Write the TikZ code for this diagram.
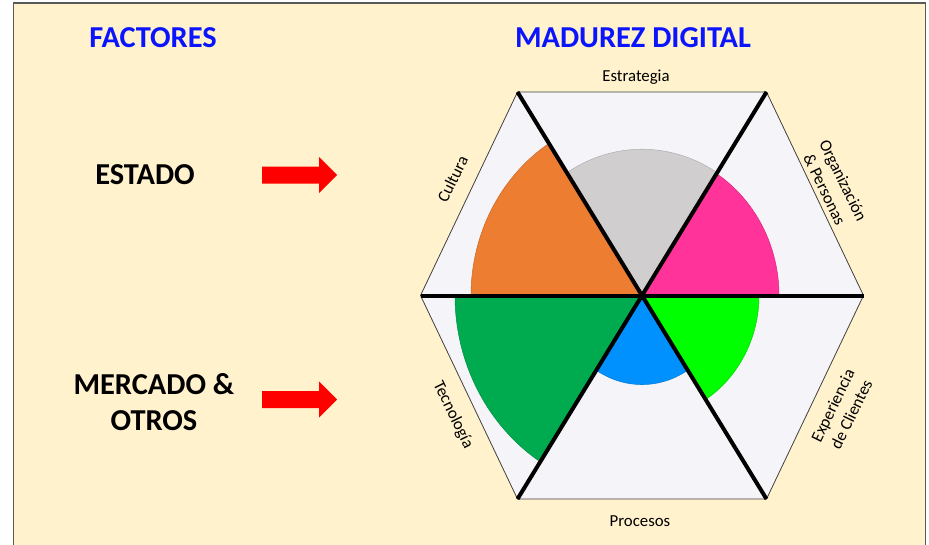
\documentclass[tikz,border=0pt]{standalone}
\usepackage{fontspec}
\setmainfont{Carlito}
\definecolor{panel}{HTML}{FFF2CC}
\definecolor{panelborder}{HTML}{595959}
\definecolor{titleblue}{HTML}{0A14FF}
\definecolor{arrowred}{HTML}{FF0000}
\definecolor{hexfill}{HTML}{F5F4F9}
\definecolor{hexline}{HTML}{404040}
\definecolor{secgray}{HTML}{D0CECE}
\definecolor{secorange}{HTML}{ED7D31}
\definecolor{secdkgreen}{HTML}{00AB50}
\definecolor{secblue}{HTML}{0091FF}
\definecolor{seclime}{HTML}{00FF00}
\definecolor{secpink}{HTML}{FF3399}
\begin{document}
\begin{tikzpicture}[x=0.75pt, y=0.75pt,
    bigword/.style={font=\fontsize{22.8}{27.5}\selectfont\bfseries, align=center, inner sep=0pt},
    sidelabel/.style={font=\fontsize{12.6}{15.5}\selectfont, align=center, inner sep=0pt},
    divider/.style={line width=3pt, black}]
    \clip (0,0) rectangle (929,544);
    \useasboundingbox (0,0) rectangle (929,544);

    % --- Background panel ---
    \fill[white] (0,0) rectangle (929,544);
    \draw[panelborder, line width=1.1pt, fill=panel] (13.5,-10) rectangle (925.5,541);

    % --- Left column: factors ---
    \node[bigword, text=titleblue] (factores) at (153,506) {FACTORES};
    \node[bigword] (estado) at (145,369) {ESTADO};
    \node[bigword] (mercado) at (154,142) {MERCADO \&\\OTROS};

    % Block arrows
    \foreach \yc in {369,144.5}
        \fill[arrowred] (262,\yc+8.5) -- (319,\yc+8.5) -- (319,\yc+18) -- (337,\yc)
            -- (319,\yc-18) -- (319,\yc-8.5) -- (262,\yc-8.5) -- cycle;

    % --- Right column: maturity hexagon ---
    \node[bigword, text=titleblue] (madurez) at (633,506) {MADUREZ DIGITAL};
    \begin{scope}[shift={(642,248.5)}]
        \coordinate (o) at (0,0);
        \coordinate (tl) at (-124.5,203.5); \coordinate (tr) at (124.5,203.5);
        \coordinate (r) at (221.5,0); \coordinate (br) at (124.5,-203.5);
        \coordinate (bl) at (-124.5,-203.5); \coordinate (l) at (-221.5,0);

        % Hexagon
        \filldraw[fill=hexfill, draw=hexline, line width=0.6pt] (tl)--(tr)--(r)--(br)--(bl)--(l)--cycle;

        % Sectors {start/end/radius/colour}
        \begin{scope}[yscale=1.06]
            \foreach \a/\b/\r/\col in {57/123/138/secgray, 123/180/171/secorange,
                180/237/187/secdkgreen, 237/303/84/secblue, 303/360/117/seclime, 0/57/137/secpink}
                \filldraw[fill=\col, draw=\col!85!black, line width=0.4pt]
                    (o) -- (\a:\r) arc[start angle=\a, end angle=\b, radius=\r] -- cycle;
        \end{scope}

        % Dividers
        \draw[divider] (tl)--(br); \draw[divider] (tr)--(bl); \draw[divider] (l)--(r);

        % Axis labels
        \node[sidelabel] (estrategia) at (-6,218) {Estrategia};
        \node[sidelabel] (procesos) at (-2,-226) {Procesos};
        \node[sidelabel, rotate=64] (cultura) at (-189.5,116.5) {Cultura};
        \node[sidelabel, rotate=-64] (organizacion) at (192,110.5) {Organización\\\& Personas};
        \node[sidelabel, rotate=-64] (tecnologia) at (-189,-119.5) {Tecnología};
        \node[sidelabel, rotate=64] (experiencia) at (200,-114.5) {Experiencia\\de Clientes};
    \end{scope}
\end{tikzpicture}
\end{document}
